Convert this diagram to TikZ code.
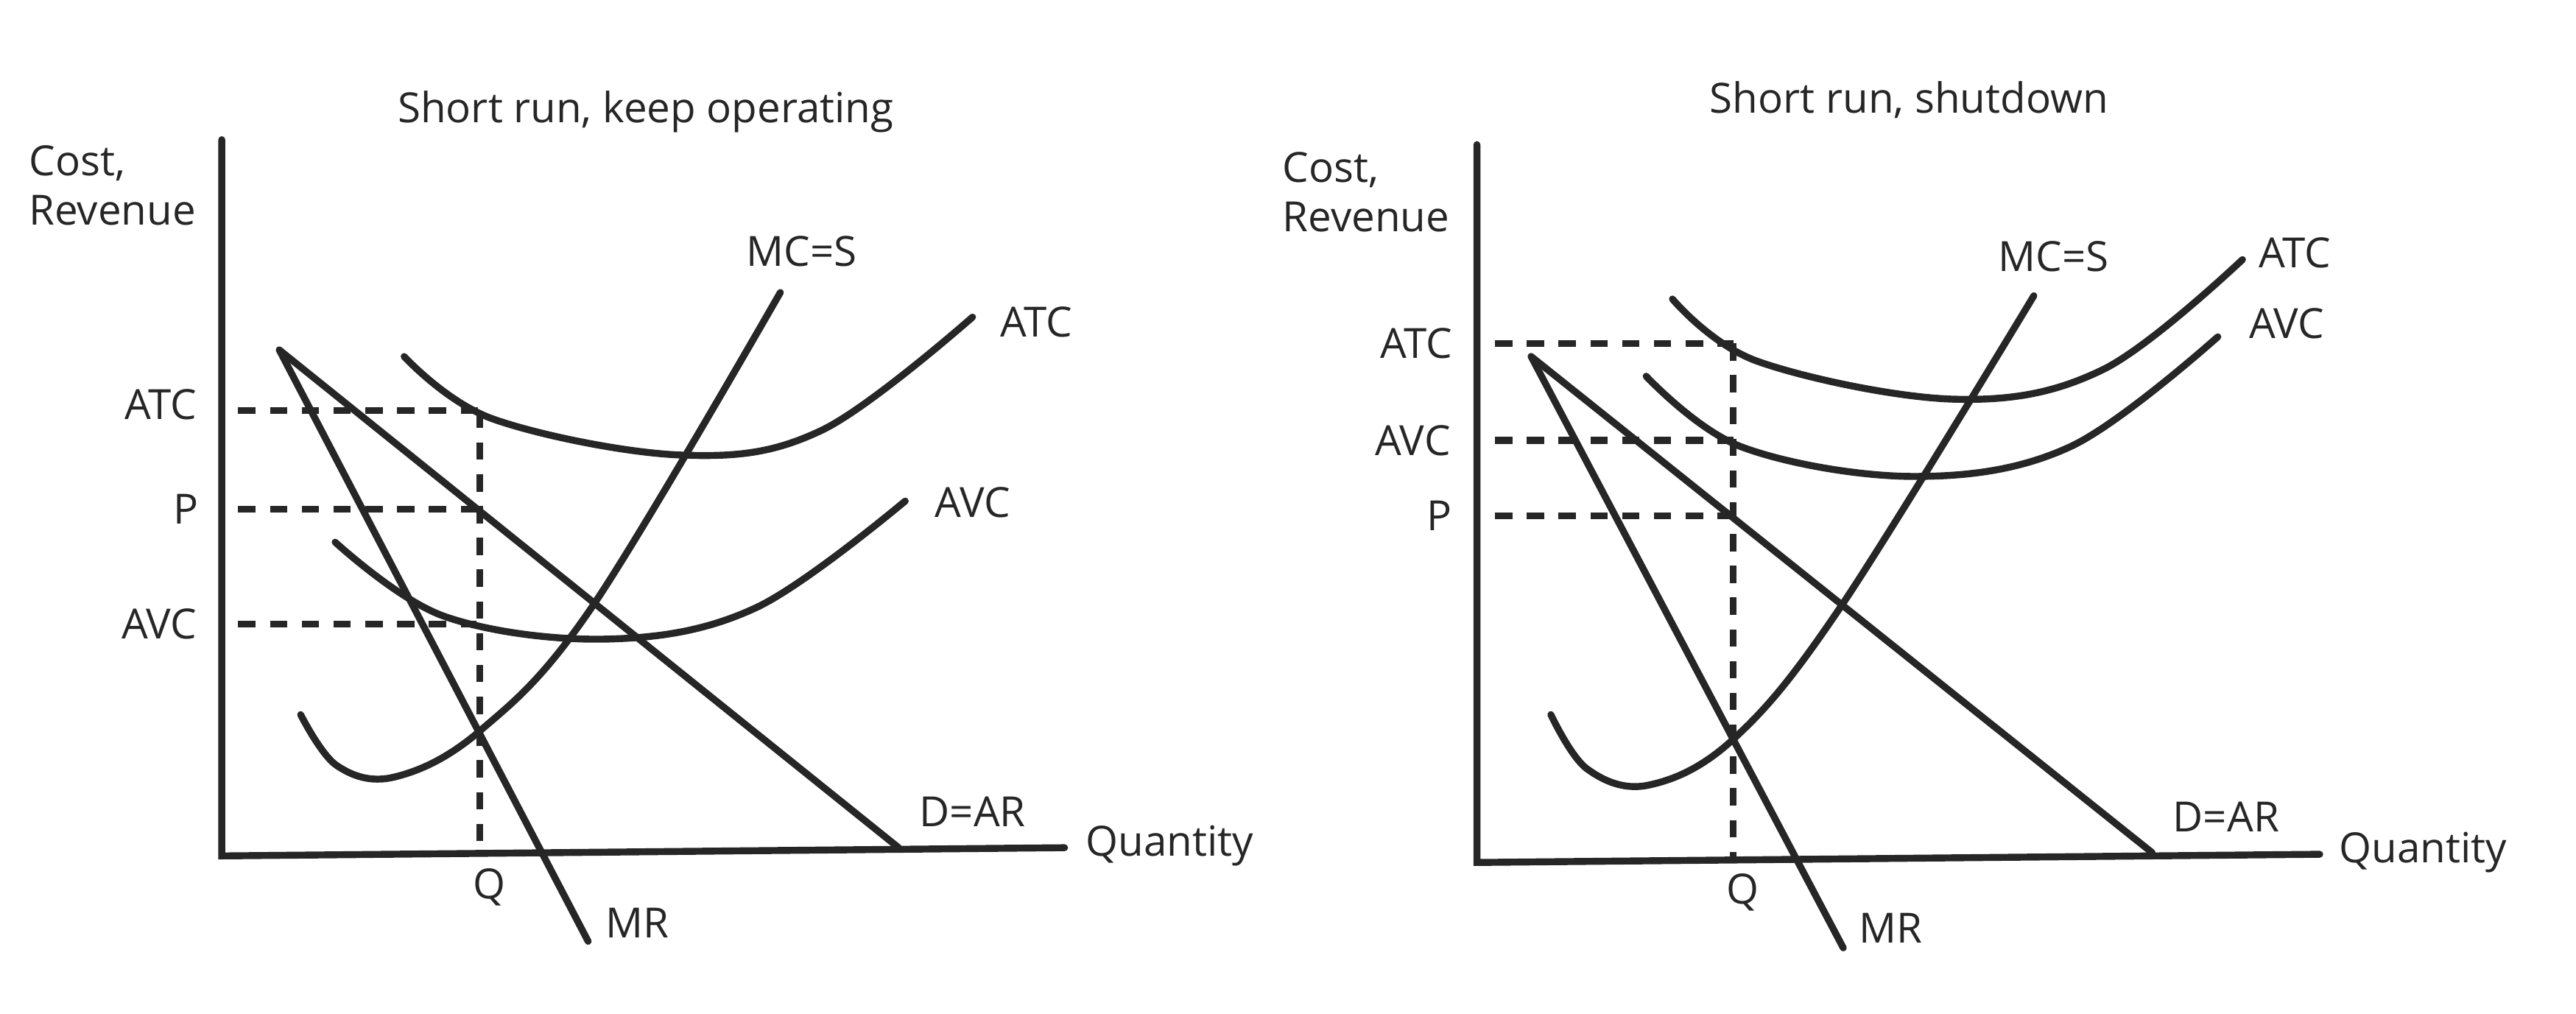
\documentclass[tikz,border=0pt]{standalone}
\usepackage{fontspec}
\setmainfont{Open Sans}
\begin{document}
\begin{tikzpicture}[x=0.01cm,y=-0.01cm,
  ln/.style={line width=1.2pt,color=black!85,line cap=round},
  dsh/.style={line width=1.2pt,color=black!85,dash pattern=on 3pt off 2.5pt},
  lb/.style={font=\fontsize{7.2}{8.5}\selectfont,color=black!85,inner sep=0pt}]
\useasboundingbox (0,0) rectangle (1568,617);
% ---------- left panel
\draw[ln] (135,85) -- (135,521) -- (648,516);
\draw[ln] (170,213) -- (547,516);
\draw[ln] (170,213) -- (358,573);
\draw[ln] plot[smooth,tension=0.6] coordinates{(183,435)(205,466)(240,473)(292,445)(360,370)(475,178)};
\draw[ln] plot[smooth,tension=0.6] coordinates{(246,217)(300,255)(415,277)(500,262)(592,193)};
\draw[ln] plot[smooth,tension=0.6] coordinates{(204,330)(270,375)(370,389)(460,370)(551,305)};
\draw[dsh] (145,250) -- (292,250);
\draw[dsh] (145,310) -- (292,310);
\draw[dsh] (145,380) -- (290,380);
\draw[dsh] (292,250) -- (292,521);
\node[lb] at (393,68) {Short run, keep operating};
\node[lb,align=left,anchor=west] at (17,113) {Cost,\\Revenue};
\node[lb] at (98,246) {ATC};
\node[lb] at (113,310) {P};
\node[lb] at (97,380) {AVC};
\node[lb] at (298,540) {Q};
\node[lb] at (388,562) {MR};
\node[lb] at (592,494) {D=AR};
\node[lb] at (712,515) {Quantity};
\node[lb] at (488,153) {MC=S};
\node[lb] at (631,196) {ATC};
\node[lb] at (592,306) {AVC};
% ---------- right panel
\draw[ln] (899,88) -- (899,525) -- (1412,520);
\draw[ln] (932,217) -- (1310,519);
\draw[ln] (932,217) -- (1122,577);
\draw[ln] plot[smooth,tension=0.6] coordinates{(944,435)(966,468)(1003,478)(1055,450)(1120,370)(1238,180)};
\draw[ln] plot[smooth,tension=0.6] coordinates{(1018,182)(1070,220)(1190,243)(1280,225)(1365,158)};
\draw[ln] plot[smooth,tension=0.6] coordinates{(1002,229)(1060,272)(1165,290)(1260,272)(1350,205)};
\draw[dsh] (910,209) -- (1055,209);
\draw[dsh] (910,268) -- (1055,268);
\draw[dsh] (910,314) -- (1055,314);
\draw[dsh] (1055,209) -- (1055,525);
\node[lb] at (1162,61) {Short run, shutdown};
\node[lb,align=left,anchor=west] at (780,117) {Cost,\\Revenue};
\node[lb] at (862,209) {ATC};
\node[lb] at (860,268) {AVC};
\node[lb] at (876,314) {P};
\node[lb] at (1061,543) {Q};
\node[lb] at (1151,565) {MR};
\node[lb] at (1355,497) {D=AR};
\node[lb] at (1475,519) {Quantity};
\node[lb] at (1250,156) {MC=S};
\node[lb] at (1397,154) {ATC};
\node[lb] at (1392,197) {AVC};
\end{tikzpicture}
\end{document}
